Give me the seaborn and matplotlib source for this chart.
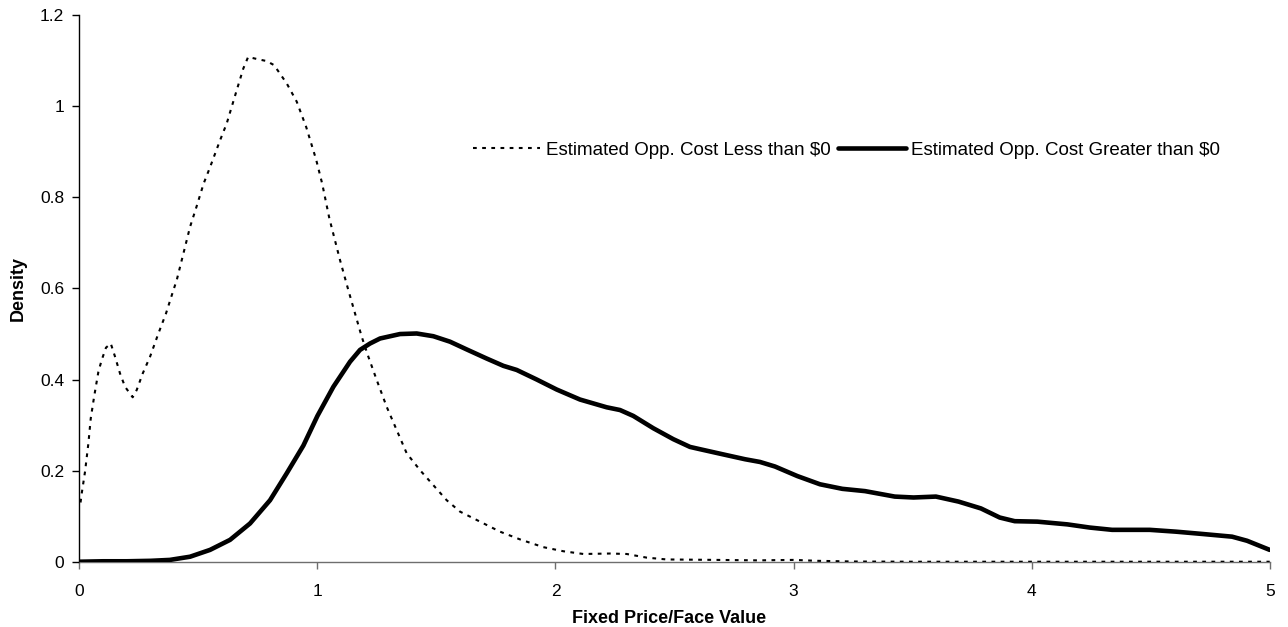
import matplotlib
matplotlib.use("Agg")
import matplotlib.pyplot as plt
import seaborn as sns
import pandas as pd

# Series 1: Estimated Opp. Cost Less than $0 (dotted)
less_x = [0.005, 0.01, 0.024, 0.038, 0.048, 0.062, 0.08, 0.094, 0.112, 0.132, 0.15, 0.171,
          0.192, 0.224, 0.241, 0.266, 0.297, 0.332, 0.364, 0.395, 0.409, 0.444, 0.465,
          0.492, 0.522, 0.549, 0.591, 0.619, 0.661, 0.689, 0.709, 0.75, 0.787, 0.818,
          0.871, 0.913, 0.953, 0.995, 1.02, 1.05, 1.095, 1.13, 1.158, 1.186, 1.214,
          1.249, 1.291, 1.333, 1.375, 1.431, 1.487, 1.543, 1.599, 1.683, 1.767, 1.851,
          1.949, 2.033, 2.117, 2.229, 2.299, 2.383, 2.467, 2.677, 2.85, 3.0, 3.1, 3.25,
          3.5, 4.0, 4.5, 5.0]
less_y = [0.13, 0.15, 0.198, 0.26, 0.315, 0.362, 0.417, 0.443, 0.47, 0.479, 0.45, 0.413,
          0.384, 0.361, 0.377, 0.413, 0.45, 0.501, 0.545, 0.596, 0.618, 0.691, 0.735,
          0.779, 0.83, 0.866, 0.925, 0.962, 1.035, 1.083, 1.108, 1.103, 1.099, 1.09,
          1.05, 1.01, 0.954, 0.882, 0.83, 0.754, 0.662, 0.596, 0.545, 0.494, 0.45,
          0.399, 0.34, 0.289, 0.238, 0.201, 0.168, 0.135, 0.11, 0.088, 0.066, 0.049,
          0.032, 0.023, 0.017, 0.018, 0.017, 0.009, 0.005, 0.004, 0.003, 0.004, 0.002,
          0.0005, 0.0, 0.0, 0.0, 0.0]

# Series 2: Estimated Opp. Cost Greater than $0 (solid)
greater_x = [0.0, 0.1, 0.2, 0.3, 0.38, 0.465, 0.549, 0.633, 0.717, 0.801, 0.871, 0.941,
             1.0, 1.067, 1.137, 1.179, 1.221, 1.263, 1.347, 1.417, 1.487, 1.557, 1.627,
             1.711, 1.781, 1.837, 1.921, 2.005, 2.103, 2.215, 2.271, 2.327, 2.411, 2.495,
             2.565, 2.607, 2.701, 2.796, 2.859, 2.922, 3.016, 3.111, 3.205, 3.3, 3.425,
             3.504, 3.598, 3.693, 3.787, 3.866, 3.929, 4.024, 4.15, 4.244, 4.338, 4.496,
             4.606, 4.716, 4.842, 4.905, 5.0]
greater_y = [0.0, 0.001, 0.001, 0.002, 0.004, 0.011, 0.026, 0.048, 0.084, 0.135, 0.194, 0.255,
             0.32, 0.384, 0.439, 0.465, 0.479, 0.49, 0.4998, 0.501, 0.495, 0.483, 0.466,
             0.446, 0.43, 0.421, 0.40, 0.378, 0.356, 0.339, 0.333, 0.32, 0.293, 0.269,
             0.252, 0.247, 0.236, 0.225, 0.219, 0.209, 0.188, 0.17, 0.16, 0.155, 0.143,
             0.141, 0.143, 0.132, 0.117, 0.097, 0.089, 0.088, 0.082, 0.075, 0.07, 0.07,
             0.066, 0.061, 0.055, 0.046, 0.026]

labels = ["Estimated Opp. Cost Less than \\$0", "Estimated Opp. Cost Greater than \\$0"]
x_ticks = [0, 1, 2, 3, 4, 5]
y_ticks = [0, 0.2, 0.4, 0.6, 0.8, 1.0, 1.2]
y_tick_labels = ["0", "0.2", "0.4", "0.6", "0.8", "1", "1.2"]

sns.set_style("ticks")
plt.rcParams['font.family'] = ['Liberation Sans', 'DejaVu Sans']
plt.rcParams['text.color'] = 'black'
plt.rcParams['axes.labelcolor'] = 'black'
plt.rcParams['xtick.labelcolor'] = 'black'
plt.rcParams['ytick.labelcolor'] = 'black'

fig = plt.figure(figsize=(12.88, 6.27), dpi=100)
ax = fig.add_axes([0.0616, 0.1041, 0.9242, 0.8719])

df_less = pd.DataFrame({"x": less_x, "y": less_y})
df_greater = pd.DataFrame({"x": greater_x, "y": greater_y})

sns.lineplot(data=df_less, x="x", y="y", ax=ax, color="black", linewidth=1.5,
             linestyle=(0, (1.8, 2.6)), estimator=None, sort=False, label=labels[0])
sns.lineplot(data=df_greater, x="x", y="y", ax=ax, color="black", linewidth=3.3,
             estimator=None, sort=False, label=labels[1],
             solid_joinstyle="round", solid_capstyle="round")

ax.set_xlim(0, 5)
ax.set_ylim(0, 1.2)
ax.set_xticks(x_ticks)
ax.set_xticklabels([str(t) for t in x_ticks])
ax.set_yticks(y_ticks)
ax.set_yticklabels(y_tick_labels)
ax.tick_params(axis="x", length=5, width=1, pad=11, labelsize=12.5, color="#6e6e6e",
               labelcolor="black")
ax.tick_params(axis="y", length=5, width=1, pad=6, labelsize=12.5, color="black",
               labelcolor="black")
for s in ["top", "right"]:
    ax.spines[s].set_visible(False)
ax.spines["left"].set_color("black")
ax.spines["left"].set_linewidth(1.0)
ax.spines["bottom"].set_color("#6e6e6e")
ax.spines["bottom"].set_linewidth(1.0)
ax.spines["left"].set_zorder(0.5)
ax.spines["bottom"].set_zorder(0.5)

ax.set_xlabel("Fixed Price/Face Value", fontsize=13, fontweight="bold", color="black")
ax.set_ylabel("Density", fontsize=13, fontweight="bold", color="black")
ax.xaxis.set_label_coords(0.4955, -0.088)
ax.yaxis.set_label_coords(-0.0445, 0.5)

leg = ax.legend(loc="center left", bbox_to_anchor=(0.3307, 0.753), ncol=2, frameon=False,
                fontsize=13.5, handlelength=3.6, handletextpad=0.3, columnspacing=0.4,
                borderaxespad=0, borderpad=0, labelcolor="black")

fig.savefig("out.png", dpi=100)
